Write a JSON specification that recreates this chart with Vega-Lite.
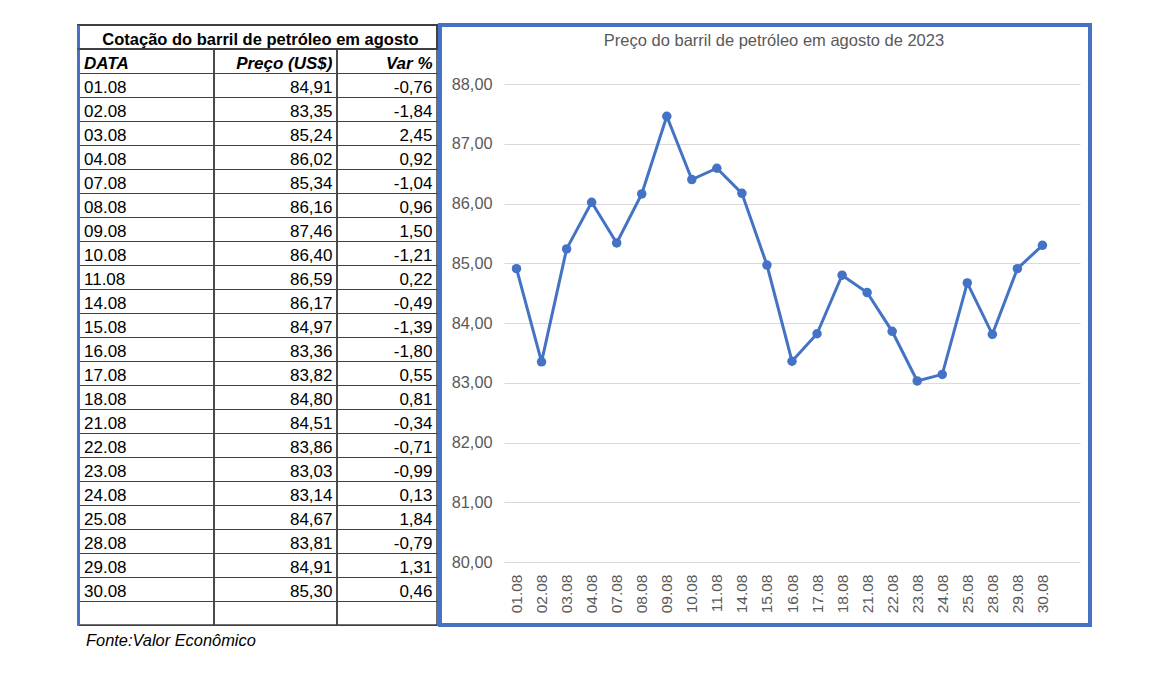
{
  "$schema": "https://vega.github.io/schema/vega-lite/v6.json",
  "padding": {"left": 77, "top": 23, "right": 5, "bottom": 5},
  "background": "white",
  "datasets": {
    "rows": [
      {"d": "01.08", "p": 84.91, "v": -0.76},
      {"d": "02.08", "p": 83.35, "v": -1.84},
      {"d": "03.08", "p": 85.24, "v": 2.45},
      {"d": "04.08", "p": 86.02, "v": 0.92},
      {"d": "07.08", "p": 85.34, "v": -1.04},
      {"d": "08.08", "p": 86.16, "v": 0.96},
      {"d": "09.08", "p": 87.46, "v": 1.50},
      {"d": "10.08", "p": 86.40, "v": -1.21},
      {"d": "11.08", "p": 86.59, "v": 0.22},
      {"d": "14.08", "p": 86.17, "v": -0.49},
      {"d": "15.08", "p": 84.97, "v": -1.39},
      {"d": "16.08", "p": 83.36, "v": -1.80},
      {"d": "17.08", "p": 83.82, "v": 0.55},
      {"d": "18.08", "p": 84.80, "v": 0.81},
      {"d": "21.08", "p": 84.51, "v": -0.34},
      {"d": "22.08", "p": 83.86, "v": -0.71},
      {"d": "23.08", "p": 83.03, "v": -0.99},
      {"d": "24.08", "p": 83.14, "v": 0.13},
      {"d": "25.08", "p": 84.67, "v": 1.84},
      {"d": "28.08", "p": 83.81, "v": -0.79},
      {"d": "29.08", "p": 84.91, "v": 1.31},
      {"d": "30.08", "p": 85.30, "v": 0.46}
    ]
  },
  "title": {"text": "Fonte:Valor Econômico", "orient": "bottom", "anchor": "start", "fontStyle": "italic", "fontWeight": "normal", "fontSize": 16.4, "font": "Liberation Sans", "color": "#000000", "offset": 6, "dx": 9},
  "hconcat": [
    {
      "vconcat": [
        {
          "width": 359,
          "height": 24,
          "data": {"values": [{"t": "Cotação do barril de petróleo em agosto"}]},
          "view": {"stroke": "#404040", "strokeWidth": 2},
          "mark": {"type": "text", "fontWeight": "bold", "fontSize": 16.5, "color": "#000000", "dy": 3, "dx": 3},
          "encoding": {
            "y": {"datum": "T", "type": "ordinal", "scale": {"type": "band", "paddingInner": 0, "paddingOuter": 0},
              "axis": {"title": null, "labels": false, "ticks": false, "domain": true, "domainColor": "#4472C4", "domainWidth": 3, "grid": false, "minExtent": 0, "maxExtent": 0}},
            "text": {"field": "t"}
          }
        },
        {
          "hconcat": [
            {
              "width": 136,
              "height": 576,
              "data": {"name": "rows"},
              "view": {"stroke": "#404040", "strokeWidth": 1.5},
              "encoding": {
                "y": {"field": "d", "type": "ordinal",
                  "scale": {"type": "band", "paddingInner": 0, "paddingOuter": 0, "domain": ["H","01.08","02.08","03.08","04.08","07.08","08.08","09.08","10.08","11.08","14.08","15.08","16.08","17.08","18.08","21.08","22.08","23.08","24.08","25.08","28.08","29.08","30.08","B"]},
                  "axis": {"title": null, "labels": false, "ticks": false, "domain": true, "domainColor": "#4472C4", "domainWidth": 3, "grid": true, "tickBand": "extent", "gridColor": "#404040", "gridWidth": 1, "minExtent": 0, "maxExtent": 0}}
              },
              "layer": [
                {"mark": {"type": "text", "align": "left", "dx": 6, "dy": 3, "fontSize": 17, "color": "#000000"},
                 "encoding": {"x": {"value": 0}, "text": {"field": "d"}}},
                {"data": {"values": [{"h": "DATA"}]},
                 "mark": {"type": "text", "align": "left", "dx": 6, "dy": 3, "fontSize": 17, "fontWeight": "bold", "fontStyle": "italic", "color": "#000000"},
                 "encoding": {"x": {"value": 0}, "y": {"datum": "H", "type": "ordinal"}, "text": {"field": "h"}}}
              ]
            },
            {
              "width": 123,
              "height": 576,
              "data": {"name": "rows"},
              "view": {"stroke": "#404040", "strokeWidth": 1.5},
              "encoding": {
                "y": {"field": "d", "type": "ordinal",
                  "scale": {"type": "band", "paddingInner": 0, "paddingOuter": 0, "domain": ["H","01.08","02.08","03.08","04.08","07.08","08.08","09.08","10.08","11.08","14.08","15.08","16.08","17.08","18.08","21.08","22.08","23.08","24.08","25.08","28.08","29.08","30.08","B"]},
                  "axis": {"title": null, "labels": false, "ticks": false, "domain": false, "grid": true, "tickBand": "extent", "gridColor": "#404040", "gridWidth": 1, "minExtent": 0, "maxExtent": 0}}
              },
              "layer": [
                {"mark": {"type": "text", "align": "right", "dx": -4.5, "dy": 3, "fontSize": 17, "color": "#000000"},
                 "encoding": {"x": {"value": "width"}, "text": {"field": "p", "type": "quantitative", "format": ".2f"}}},
                {"data": {"values": [{"h": "Preço (US$)"}]},
                 "mark": {"type": "text", "align": "right", "dx": -4.5, "dy": 3, "fontSize": 17, "fontWeight": "bold", "fontStyle": "italic", "color": "#000000"},
                 "encoding": {"x": {"value": "width"}, "y": {"datum": "H", "type": "ordinal"}, "text": {"field": "h"}}}
              ]
            },
            {
              "width": 100,
              "height": 576,
              "data": {"name": "rows"},
              "view": {"stroke": "#404040", "strokeWidth": 1.5},
              "encoding": {
                "y": {"field": "d", "type": "ordinal",
                  "scale": {"type": "band", "paddingInner": 0, "paddingOuter": 0, "domain": ["H","01.08","02.08","03.08","04.08","07.08","08.08","09.08","10.08","11.08","14.08","15.08","16.08","17.08","18.08","21.08","22.08","23.08","24.08","25.08","28.08","29.08","30.08","B"]},
                  "axis": {"title": null, "labels": false, "ticks": false, "domain": false, "grid": true, "tickBand": "extent", "gridColor": "#404040", "gridWidth": 1, "minExtent": 0, "maxExtent": 0}}
              },
              "layer": [
                {"mark": {"type": "text", "align": "right", "dx": -4.5, "dy": 3, "fontSize": 17, "color": "#000000"},
                 "encoding": {"x": {"value": "width"}, "text": {"field": "v", "type": "quantitative", "format": ".2f"}}},
                {"data": {"values": [{"h": "Var %"}]},
                 "mark": {"type": "text", "align": "right", "dx": -4.5, "dy": 3, "fontSize": 17, "fontWeight": "bold", "fontStyle": "italic", "color": "#000000"},
                 "encoding": {"x": {"value": "width"}, "y": {"datum": "H", "type": "ordinal"}, "text": {"field": "h"}}}
              ]
            }
          ],
          "spacing": 0,
          "bounds": "flush"
        }
      ],
      "spacing": 0,
      "bounds": "flush"
    },
    {
      "width": 650,
      "height": 600,
      "data": {"name": "rows"},
      "view": {"stroke": "#4472C4", "strokeWidth": 4},
      "title": {"text": "Preço do barril de petróleo em agosto de 2023", "fontSize": 16.5, "fontWeight": "normal", "color": "#595959", "offset": 0, "dy": 24, "anchor": "middle", "frame": "group", "dx": 9},
      "mark": {"type": "line", "color": "#4472C4", "strokeWidth": 3, "point": {"filled": true, "size": 90, "color": "#4472C4"}},
      "encoding": {
        "x": {"field": "d", "type": "ordinal", "sort": null,
          "scale": {"type": "point", "range": [64, 640], "padding": 1, "align": 0.25},
          "axis": {"title": null, "labelAngle": -90, "labelFontSize": 15.5, "labelColor": "#595959", "ticks": false, "tickSize": 0, "domain": false, "offset": -63, "labelPadding": 12, "grid": false}},
        "y": {"field": "p", "type": "quantitative",
          "scale": {"domain": [80, 88], "range": [537, 59], "zero": false, "nice": false},
          "axis": {"title": null, "values": [80, 81, 82, 83, 84, 85, 86, 87, 88], "format": ".2f", "labelFontSize": 16.3, "labelColor": "#595959", "ticks": false, "tickSize": 0, "domain": false, "offset": -52, "labelPadding": 0, "grid": true, "gridColor": "#D9D9D9", "gridWidth": 1}}
      }
    }
  ],
  "spacing": 0,
  "config": {
    "font": "Liberation Sans",
    "locale": {"number": {"decimal": ",", "thousands": ".", "grouping": [3], "currency": ["", ""], "minus": "-"}},
    "axis": {"labelFont": "Liberation Sans"},
    "text": {"font": "Liberation Sans"}
  }
}
